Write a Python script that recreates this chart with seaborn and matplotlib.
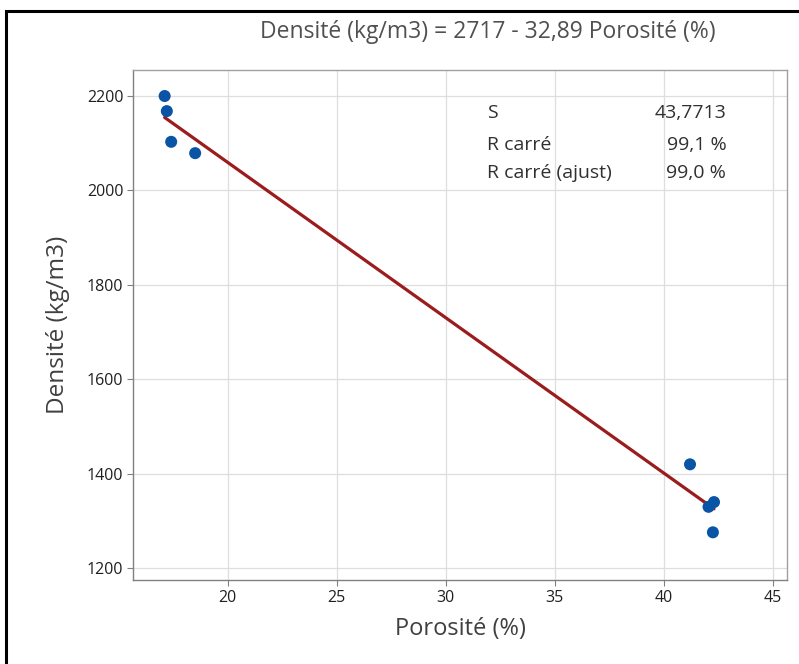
import numpy as np
import pandas as pd
import seaborn as sns
from matplotlib import pyplot as plt
from matplotlib.patches import Rectangle

sns.set_theme(style="whitegrid")
plt.rcParams["font.family"] = ["Open Sans", "DejaVu Sans"]

porosite = [17.1, 17.2, 17.4, 18.5, 41.2, 42.05, 42.3, 42.25]
densite = [2200, 2168, 2103, 2079, 1420, 1330, 1340, 1276]
intercept = 2717
slope = -32.89
stats_labels = ["S", "R carré", "R carré (ajust)"]
stats_values = ["43,7713", "99,1 %", "99,0 %"]

df = pd.DataFrame({"Porosité (%)": porosite, "Densité (kg/m3)": densite})

fig = plt.figure(figsize=(7.99, 6.64), dpi=100)
ax = fig.add_axes([0.1665, 0.1265, 0.8185, 0.768])

# fitted line from the equation in the title
xfit = np.array([min(porosite), max(porosite)])
sns.lineplot(x=xfit, y=intercept + slope * xfit, color="#9b1c1c", linewidth=2.3, ax=ax)
sns.scatterplot(data=df, x="Porosité (%)", y="Densité (kg/m3)", color="#0a54a5",
                s=75, edgecolor="none", ax=ax, zorder=3)

ax.set_xlim(15.65, 45.65)
ax.set_ylim(1175, 2255)
ax.set_xticks([20, 25, 30, 35, 40, 45])
ax.set_yticks([1200, 1400, 1600, 1800, 2000, 2200])
ax.grid(True, color="#dedede", linewidth=0.9)
for s in ax.spines.values():
    s.set_color("#a0a0a0")
    s.set_linewidth(1.0)
ax.spines["left"].set_color("#808080")
ax.spines["bottom"].set_color("#808080")
ax.tick_params(axis="both", which="major", length=4, width=0.8, color="#808080",
               labelsize=11.5, labelcolor="#202020", bottom=True, left=True, pad=3)
ax.set_xlabel("Porosité (%)", fontsize=17, color="#404040", labelpad=8)
ax.set_ylabel("Densité (kg/m3)", fontsize=17.5, color="#404040", labelpad=12)

fig.text(0.611, 0.952, "Densité (kg/m3) = 2717 - 32,89 Porosité (%)",
         ha="center", va="center", fontsize=16.5, color="#505050")

ys = [0.830, 0.782, 0.740]
for lab, val, yy in zip(stats_labels, stats_values, ys):
    fig.text(0.609, yy, lab, ha="left", va="center", fontsize=14, color="#303030")
    fig.text(0.909, yy, val, ha="right", va="center", fontsize=14, color="#303030")

fig.patches.append(Rectangle((0.007, -0.01), 1.2, 0.993, transform=fig.transFigure,
                             fill=False, edgecolor="black", linewidth=2.2))

fig.savefig("out.png", dpi=100)
